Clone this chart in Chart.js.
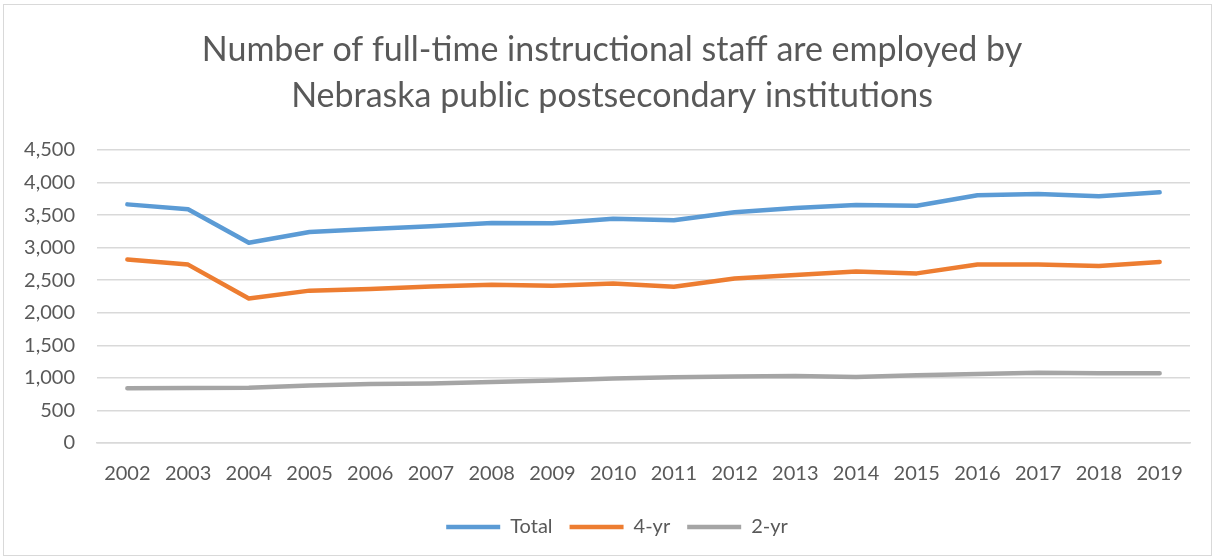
<!DOCTYPE html>
<html>
<head>
<meta charset="utf-8">
<script src="https://cdn.jsdelivr.net/npm/chart.js@4"></script>
<style>
  html, body { margin: 0; padding: 0; background: #fff; }
  #wrap { position: relative; width: 1214px; height: 560px; }
  #frame { position: absolute; left: 3px; top: 4px; width: 1207px; height: 550px; border: 1px solid #d9d9d9; pointer-events: none; }
</style>
</head>
<body>
<div id="wrap">
  <canvas id="chart-staff" width="1214" height="560"></canvas>
  <div id="frame"></div>
</div>
<script>
  // years on the category axis
  const years = ['2002', '2003', '2004', '2005', '2006', '2007', '2008', '2009', '2010',
                 '2011', '2012', '2013', '2014', '2015', '2016', '2017', '2018', '2019'];

  // staff counts
  const totalStaff = [3665, 3590, 3075, 3240, 3285, 3330, 3380, 3375, 3445,
                      3420, 3545, 3610, 3655, 3645, 3805, 3825, 3790, 3850];
  const fourYear = [2820, 2740, 2220, 2340, 2365, 2405, 2430, 2415, 2450,
                    2400, 2525, 2580, 2635, 2605, 2740, 2740, 2720, 2780];
  const twoYear = [840, 845, 850, 885, 905, 915, 935, 960, 990,
                   1010, 1020, 1030, 1015, 1040, 1060, 1080, 1070, 1070];

  const textColor = '#595959';
  const fontFamily = 'Lato, "Open Sans", sans-serif';

  function lineSet(label, data, color) {
    return {
      label: label,
      data: data,
      borderColor: color,
      backgroundColor: color,
      borderWidth: 4.5,
      borderCapStyle: 'round',
      borderJoinStyle: 'round',
      pointRadius: 0,
      pointHoverRadius: 0,
      pointStyle: 'line',
      tension: 0,
      fill: false
    };
  }

  // title and legend are centred on the whole frame, not on the plot box
  const shiftBoxes = {
    id: 'shiftBoxes',
    afterLayout: function (chart) {
      chart.legend.left += 22;
      chart.legend.right += 22;
      chart.titleBlock.left += 17;
      chart.titleBlock.right += 17;
    }
  };

  const ctx = document.getElementById('chart-staff');
  new Chart(ctx, {
    type: 'line',
    data: {
      labels: years,
      datasets: [
        lineSet('Total', totalStaff, '#5B9BD5'),
        lineSet('4-yr', fourYear, '#ED7D31'),
        lineSet('2-yr', twoYear, '#A5A5A5')
      ]
    },
    plugins: [shiftBoxes],
    options: {
      responsive: false,
      animation: false,
      layout: { padding: { left: 0, right: 24, top: 0, bottom: 13 } },
      plugins: {
        title: {
          display: true,
          text: ['Number of full-time instructional staff are employed by',
                 'Nebraska public postsecondary institutions'],
          color: textColor,
          font: { family: fontFamily, size: 34, weight: '400', lineHeight: 46 / 34 },
          padding: { top: 27, bottom: 31 }
        },
        legend: {
          position: 'bottom',
          labels: {
            usePointStyle: true,
            pointStyleWidth: 54,
            color: textColor,
            font: { family: fontFamily, size: 20 },
            padding: 17
          }
        },
        tooltip: { enabled: false }
      },
      scales: {
        x: {
          offset: true,
          grid: { display: false, drawTicks: false },
          border: { display: true, color: '#d9d9d9', width: 1.5 },
          ticks: { color: textColor, font: { family: fontFamily, size: 20 }, padding: 19, maxRotation: 0 },
          afterFit: function (scale) { scale.height = 57; }
        },
        y: {
          min: 0,
          max: 4500,
          grid: { color: '#d9d9d9', lineWidth: 1.5, drawTicks: false },
          border: { display: false },
          ticks: {
            stepSize: 500,
            color: textColor,
            font: { family: fontFamily, size: 20 },
            padding: 22,
            callback: function (v) { return v.toLocaleString('en-US'); }
          },
          afterFit: function (scale) { scale.width = 97; }
        }
      }
    }
  });
</script>
</body>
</html>
